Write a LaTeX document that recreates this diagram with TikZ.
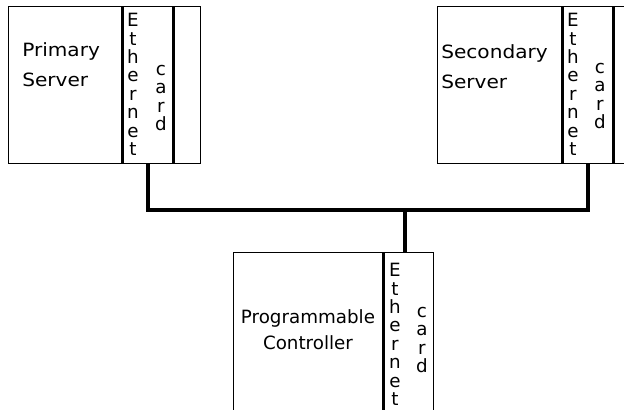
\documentclass[tikz,border=0pt]{standalone}
\usepackage{fontspec}
\setmainfont{DejaVu Sans}
\newfontfamily\srvfont[FakeStretch=1.1]{DejaVu Sans}
\usepackage{tikz}
\usetikzlibrary{positioning}
\tikzset{
  box/.style   ={draw=black,line width=0.7pt,inner sep=0pt,
                 minimum height=39mm},
  wall/.style  ={draw=black,line width=2.1pt},
  bus/.style   ={draw=black,line width=2.2pt},
  lbl/.style   ={inner sep=0pt,align=left,
                 font=\srvfont\fontsize{13}{21.5}\selectfont},
  stack/.style ={inner sep=0pt,align=center,anchor=north,
                 font=\fontsize{13}{13.1}\selectfont},
}
\begin{document}
\begin{tikzpicture}[x=0.25mm,y=-0.25mm]
\useasboundingbox (0,0) rectangle (624,410);
\clip (0,0) rectangle (624,410);
% primary server
\node[box,minimum width=28.75mm] (pbody) at (65.5,85) {};
\node[box,minimum width=12.5mm]  (pcard) at (148,85) {};
\node[box,minimum width=6.75mm]  (pend)  at (186.5,85) {};
\draw[wall] (pcard.north west) -- (pcard.south west);
\draw[wall] (pcard.north east) -- (pcard.south east);
\node[lbl,anchor=base west] (ptext) at (22,87) {Primary\\Server};
\node[stack] (peth) at (133,13) {E\\t\\h\\e\\r\\n\\e\\t};
\node[stack] (pcrd) at (161,65) {c\\a\\r\\d};
% secondary server
\node[box,minimum width=31.5mm]  (sbody) at (500,85) {};
\node[box,minimum width=12.5mm]  (scard) at (588,85) {};
\node[box,minimum width=6.75mm]  (send)  at (626.5,85) {};
\draw[wall] (scard.north west) -- (scard.south west);
\draw[wall] (scard.north east) -- (scard.south east);
\node[lbl,anchor=base west] (stext) at (441,89) {Secondary\\Server};
\node[stack] (seth) at (573,13) {E\\t\\h\\e\\r\\n\\e\\t};
\node[stack] (scrd) at (600,63) {c\\a\\r\\d};
% programmable controller
\node[box,minimum width=37.75mm,minimum height=41.75mm] (cbody) at (308.5,336.5) {};
\node[box,minimum width=12.25mm,minimum height=41.75mm] (ccard) at (408.5,336.5) {};
\draw[wall] (ccard.north west) -- (ccard.south west);
\node[lbl,align=center,anchor=base,font=\rmfamily\fontsize{13}{19}\selectfont] (ctext)
  at (308,350) {Programmable\\Controller};
\node[stack] (ceth) at (395,263) {E\\t\\h\\e\\r\\n\\e\\t};
\node[stack] (ccrd) at (422,307) {c\\a\\r\\d};
% ethernet bus
\coordinate (tap) at (405,210);
\draw[bus] (pcard.south) |- (tap) -| (scard.south);
\draw[bus] (tap) -- (tap |- ccard.north);
\end{tikzpicture}
\end{document}
